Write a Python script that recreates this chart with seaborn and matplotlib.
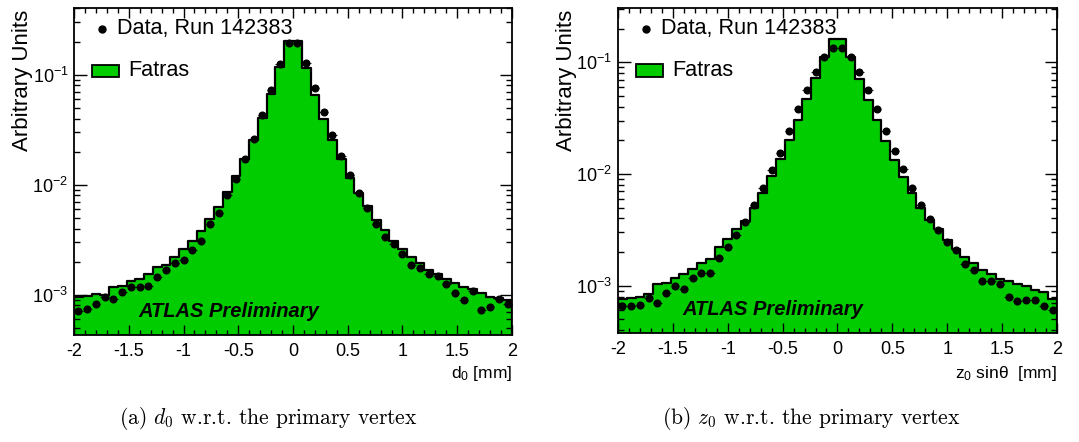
"""
d0 / z0 sin(theta) comparison: data (run 142383) vs Fatras simulation.
Two log-scale histograms side by side, ROOT-like style.
"""

import matplotlib
matplotlib.use("Agg")

import numpy as np
import pandas as pd
import matplotlib.pyplot as plt
import seaborn as sns
from matplotlib.patches import Rectangle
from matplotlib.ticker import (FixedLocator, FixedFormatter, MultipleLocator,
                               NullFormatter, LogLocator)

# 50 bins between -2 and 2 mm
BIN_WIDTH = 0.08
BIN_RANGE = (-2.0, 2.0)
BIN_CENTERS = np.arange(-2.0 + BIN_WIDTH / 2, 2.0, BIN_WIDTH)

# panel (a): d0
d0_fatras = [
    9.5e-4, 9.8e-4, 1.02e-3, 1.0e-3, 1.18e-3, 1.21e-3, 1.34e-3, 1.39e-3, 1.55e-3, 1.77e-3,
    1.87e-3, 2.19e-3, 2.59e-3, 3.10e-3, 3.79e-3, 4.91e-3, 6.23e-3, 8.53e-3, 0.0120, 0.0170,
    0.0255, 0.0404, 0.0664, 0.117, 0.204, 0.204, 0.116, 0.066, 0.0395, 0.0253,
    0.0170, 0.0115, 8.5e-3, 6.44e-3, 4.74e-3, 3.87e-3, 3.05e-3, 2.59e-3, 2.19e-3, 1.93e-3,
    1.68e-3, 1.54e-3, 1.40e-3, 1.27e-3, 1.17e-3, 1.12e-3, 1.04e-3, 9.46e-4, 9.3e-4, 8.95e-4,
]
d0_data = [
    7.1e-4, 7.5e-4, 8.2e-4, 9.5e-4, 9.1e-4, 1.05e-3, 1.17e-3, 1.18e-3, 1.20e-3, 1.45e-3,
    1.69e-3, 1.93e-3, 2.07e-3, 2.57e-3, 3.08e-3, 4.40e-3, 5.53e-3, 8.0e-3, 0.0112, 0.0170,
    0.0260, 0.0428, 0.0726, 0.125, 0.195, 0.195, 0.128, 0.0757, 0.0458, 0.0281,
    0.0182, 0.0123, 8.35e-3, 6.14e-3, 4.40e-3, 3.33e-3, 2.89e-3, 2.33e-3, 1.87e-3, 1.74e-3,
    1.53e-3, 1.47e-3, 1.25e-3, 1.03e-3, 8.95e-4, 1.08e-3, 7.26e-4, 7.78e-4, 9.08e-4, 8.22e-4,
]

# panel (b): z0 sin(theta)
z0_fatras = [
    7.59e-4, 7.69e-4, 7.9e-4, 8.34e-4, 1.04e-3, 1.05e-3, 1.16e-3, 1.26e-3, 1.42e-3, 1.61e-3,
    1.75e-3, 2.24e-3, 2.61e-3, 3.21e-3, 3.78e-3, 4.98e-3, 6.73e-3, 9.55e-3, 0.01365, 0.0200,
    0.0307, 0.0467, 0.0724, 0.112, 0.163, 0.163, 0.112, 0.0713, 0.0463, 0.0303,
    0.0196, 0.0134, 9.3e-3, 6.8e-3, 4.91e-3, 3.89e-3, 3.21e-3, 2.54e-3, 2.15e-3, 1.80e-3,
    1.59e-3, 1.39e-3, 1.26e-3, 1.15e-3, 1.09e-3, 1.04e-3, 9.84e-4, 9.19e-4, 8.69e-4, 7.59e-4,
]
z0_data = [
    6.6e-4, 6.6e-4, 6.75e-4, 7.8e-4, 6.98e-4, 8.63e-4, 9.91e-4, 9.37e-4, 1.16e-3, 1.31e-3,
    1.30e-3, 1.77e-3, 2.24e-3, 2.84e-3, 3.71e-3, 5.32e-3, 7.52e-3, 0.0109, 0.0155, 0.0243,
    0.0380, 0.0565, 0.0819, 0.112, 0.134, 0.135, 0.111, 0.0819, 0.0569, 0.0382,
    0.0242, 0.0160, 0.0111, 7.45e-3, 5.32e-3, 3.94e-3, 3.16e-3, 2.47e-3, 2.07e-3, 1.55e-3,
    1.37e-3, 1.09e-3, 1.11e-3, 1.04e-3, 7.9e-4, 7.28e-4, 7.48e-4, 7.43e-4, 6.6e-4, 6.0e-4,
]

X_TICKS = [-2, -1.5, -1, -0.5, 0, 0.5, 1, 1.5, 2]
X_TICK_LABELS = ["-2", "-1.5", "-1", "-0.5", "0", "0.5", "1", "1.5", "2"]

DATA_LABEL = "Data, Run 142383"
MC_LABEL = "Fatras"
GREEN = "#00cc00"

sns.set_style("ticks")
plt.rcParams["font.family"] = ["Liberation Sans", "DejaVu Sans"]
plt.rcParams["mathtext.default"] = "regular"
plt.rcParams["axes.unicode_minus"] = False
plt.rcParams["axes.axisbelow"] = False
for key in ("text.color", "axes.labelcolor", "xtick.color", "ytick.color",
            "axes.edgecolor"):
    plt.rcParams[key] = "black"


def draw_panel(ax, fatras, data, xlabel, ylim, label_y):
    df = pd.DataFrame({"x": BIN_CENTERS, "w": fatras, "data": data})
    sns.histplot(data=df, x="x", weights="w", binwidth=BIN_WIDTH, binrange=BIN_RANGE,
                 element="step", fill=True, color=GREEN, edgecolor="black",
                 linewidth=1.6, alpha=1, ax=ax)
    ax.errorbar(df["x"], df["data"], xerr=BIN_WIDTH / 2, fmt="o", ms=4.8,
                color="black", elinewidth=0.6, capsize=0, zorder=5)

    ax.set_yscale("log")
    ax.set_xlim(*BIN_RANGE)
    ax.set_ylim(*ylim)

    ax.xaxis.set_major_locator(FixedLocator(X_TICKS))
    ax.xaxis.set_major_formatter(FixedFormatter(X_TICK_LABELS))
    ax.xaxis.set_minor_locator(MultipleLocator(0.1))
    ax.yaxis.set_minor_locator(LogLocator(base=10, subs=np.arange(2, 10)))
    ax.yaxis.set_minor_formatter(NullFormatter())

    ax.tick_params(which="both", direction="in", top=True, right=True,
                   width=1.0, labelsize=13, color="black")
    ax.tick_params(axis="x", which="major", length=7.5, pad=6)
    ax.tick_params(axis="x", which="minor", length=3.7, width=1.0)
    ax.tick_params(axis="y", which="major", length=9, pad=4)
    ax.tick_params(axis="y", which="minor", length=4.5, width=1.0)
    for s in ax.spines.values():
        s.set_linewidth(1.3)
        s.set_color("black")
        s.set_zorder(6)

    ax.set_ylabel("Arbitrary Units", fontsize=16, loc="top")
    ax.yaxis.set_label_coords(-0.094, 0.995)
    ax.set_xlabel(xlabel, fontsize=12.5, loc="right")
    ax.xaxis.set_label_coords(1.0, label_y)

    # hand-made ROOT-like legend
    ax.plot([0.063], [0.936], "o", ms=5, color="black", transform=ax.transAxes,
            clip_on=False)
    ax.text(0.097, 0.936, DATA_LABEL, transform=ax.transAxes, fontsize=15.6,
            va="center", ha="left")
    ax.add_patch(Rectangle((0.0404, 0.789), 0.0615, 0.0375, transform=ax.transAxes,
                           facecolor=GREEN, edgecolor="black", linewidth=1.3))
    ax.text(0.123, 0.808, MC_LABEL, transform=ax.transAxes, fontsize=15.6,
            va="center", ha="left")

    ax.text(0.146, 0.056, "ATLAS Preliminary", transform=ax.transAxes,
            fontsize=14.5, fontweight="bold", fontstyle="italic", va="baseline")


fig = plt.figure(figsize=(10.79, 4.42), dpi=100)
ax_a = fig.add_axes([0.0686, 0.2421, 0.4059, 0.7398])
ax_b = fig.add_axes([0.5727, 0.2466, 0.4069, 0.7353])

draw_panel(ax_a, d0_fatras, d0_data, r"d$_0$ [mm]", (4.31e-4, 0.404), -0.089)
draw_panel(ax_b, z0_fatras, z0_data, r"z$_0$ sin$\theta$  [mm]", (3.77e-4, 0.306), -0.094)

fig.text(0.249, 0.054, r"(a) $\mathit{d}_0$ w.r.t. the primary vertex", fontsize=15.5,
         family="cmr10", math_fontfamily="cm", ha="center", va="center")
fig.text(0.752, 0.054, r"(b) $\mathit{z}_0$ w.r.t. the primary vertex", fontsize=15.5,
         family="cmr10", math_fontfamily="cm", ha="center", va="center")

fig.savefig("out.png", dpi=100)
